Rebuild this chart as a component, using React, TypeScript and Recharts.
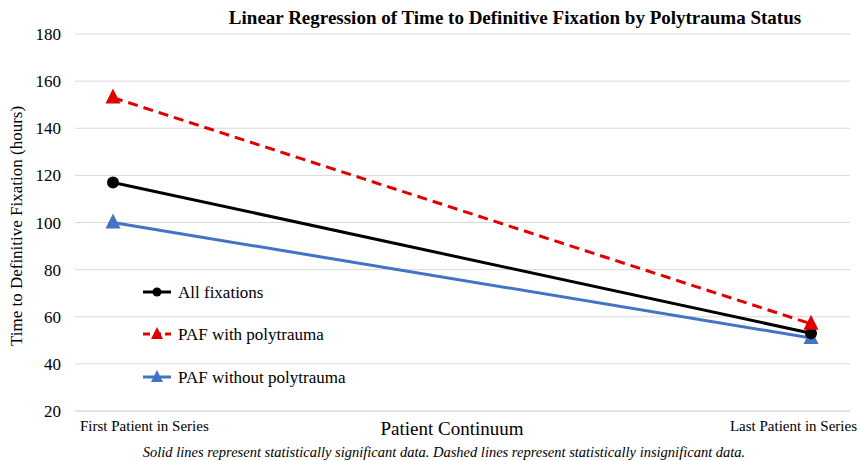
import React from 'react';
import { LineChart, Line, XAxis, YAxis, CartesianGrid, Legend, Customized } from 'recharts';

const categories = ['First Patient in Series', 'Last Patient in Series'];
const allFixations = [117, 53];
const withPolytrauma = [153, 57];
const withoutPolytrauma = [100, 51];
const yTicks = [20, 40, 60, 80, 100, 120, 140, 160, 180];

const seriesNames = ['All fixations', 'PAF with polytrauma', 'PAF without polytrauma'];

const data = categories.map((c, i) => ({
  cat: c,
  all: allFixations[i],
  withP: withPolytrauma[i],
  withoutP: withoutPolytrauma[i],
}));

const RED = '#e00000';
const BLUE = '#4472c4';
const BLACK = '#000000';
const FONT = '"Liberation Serif", "Times New Roman", serif';

const Triangle = (color: string) => (props: any) => {
  const { cx, cy } = props;
  if (cx == null || cy == null) return null;
  return <path d={`M${cx},${cy - 9} L${cx + 7.5},${cy + 6} L${cx - 7.5},${cy + 6} Z`} fill={color} />;
};

const Circle = (props: any) => {
  const { cx, cy } = props;
  if (cx == null || cy == null) return null;
  return <circle cx={cx} cy={cy} r={6} fill={BLACK} />;
};

const XTick = (props: any) => {
  const { x, y, index, payload } = props;
  const first = index === 0;
  return (
    <text
      x={first ? x - 33 : x + 46}
      y={y + 12}
      textAnchor={first ? 'start' : 'end'}
      fontFamily={FONT}
      fontSize={15}
      fill="#000"
    >
      {payload.value}
    </text>
  );
};

const LegendContent = () => {
  const items = [
    { name: seriesNames[0], color: BLACK, shape: 'circle', dash: undefined },
    { name: seriesNames[1], color: RED, shape: 'tri', dash: '7 4' },
    { name: seriesNames[2], color: BLUE, shape: 'tri', dash: undefined },
  ];
  const rowY = [14, 56, 99];
  return (
    <svg width={260} height={115} style={{ display: 'block' }}>
      {items.map((it, i) => (
        <g key={it.name}>
          <line x1={3} x2={31} y1={rowY[i]} y2={rowY[i]} stroke={it.color} strokeWidth={3} strokeDasharray={it.dash} />
          {it.shape === 'circle' ? (
            <circle cx={17} cy={rowY[i]} r={4.5} fill={it.color} />
          ) : (
            <path d={`M17,${rowY[i] - 7} L23,${rowY[i] + 5} L11,${rowY[i] + 5} Z`} fill={it.color} />
          )}
          <text x={38} y={rowY[i] + 6} fontFamily={FONT} fontSize={17} fill="#000">
            {it.name}
          </text>
        </g>
      ))}
    </svg>
  );
};

const Texts = () => (
  <g>
    <text x={515} y={24} textAnchor="middle" fontFamily={FONT} fontSize={19} fontWeight="bold" fill="#000">
      Linear Regression of Time to Definitive Fixation by Polytrauma Status
    </text>
    <text
      x={0}
      y={0}
      transform="translate(22,226) rotate(-90)"
      textAnchor="middle"
      fontFamily={FONT}
      fontSize={17}
      fill="#000"
    >
      Time to Definitive Fixation (hours)
    </text>
    <text x={452} y={435} textAnchor="middle" fontFamily={FONT} fontSize={19} fill="#000">
      Patient Continuum
    </text>
    <text x={444} y={457} textAnchor="middle" fontFamily={FONT} fontSize={14.5} fontStyle="italic" fill="#000">
      Solid lines represent statistically significant data. Dashed lines represent statistically insignificant data.
    </text>
  </g>
);

export default function App() {
  return (
    <div style={{ position: 'absolute', left: 0, top: 0, width: 859, height: 461, background: '#fff' }}>
      <LineChart width={859} height={461} data={data} margin={{ top: 34, right: 9, bottom: 20, left: 0 }}>
        <CartesianGrid vertical={false} stroke="#d9d9d9" />
        <XAxis
          dataKey="cat"
          type="category"
          scale="point"
          height={30}
          padding={{ left: 38, right: 39 }}
          axisLine={{ stroke: '#d9d9d9' }}
          tickLine={false}
          tick={<XTick />}
          interval={0}
        />
        <YAxis
          width={75}
          domain={[20, 180]}
          ticks={yTicks}
          axisLine={false}
          tickLine={false}
          tickMargin={8}
          tick={{ fontFamily: FONT, fontSize: 17, fill: '#000' }}
        />
        <Line
          dataKey="withoutP"
          name={seriesNames[2]}
          stroke={BLUE}
          strokeWidth={3}
          dot={Triangle(BLUE)}
          isAnimationActive={false}
        />
        <Line
          dataKey="all"
          name={seriesNames[0]}
          stroke={BLACK}
          strokeWidth={3}
          dot={<Circle />}
          isAnimationActive={false}
        />
        <Line
          dataKey="withP"
          name={seriesNames[1]}
          stroke={RED}
          strokeWidth={3}
          strokeDasharray="10 6"
          dot={Triangle(RED)}
          isAnimationActive={false}
        />
        <Legend
          layout="vertical"
          align="center"
          verticalAlign="middle"
          content={<LegendContent />}
          wrapperStyle={{ left: 140, top: 278, width: 260, height: 115 }}
        />
        <Customized component={<Texts />} />
      </LineChart>
    </div>
  );
}
